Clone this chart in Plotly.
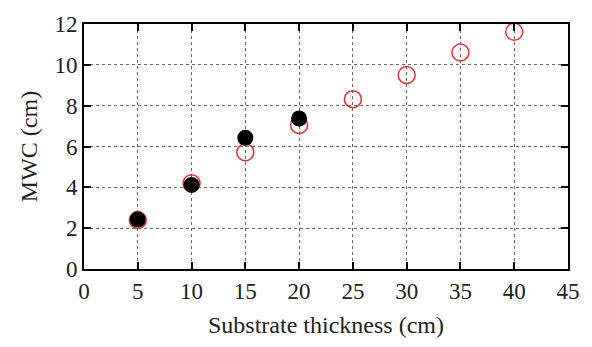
import plotly.graph_objects as go

thick_red = [5, 10, 15, 20, 25, 30, 35, 40]
mwc_red = [2.4, 4.2, 5.72, 7.05, 8.32, 9.5, 10.6, 11.62]
thick_black = [5, 10, 15, 20]
mwc_black = [2.42, 4.12, 6.43, 7.37]

fig = go.Figure()
fig.add_trace(go.Scatter(x=thick_red, y=mwc_red, mode="markers",
                         marker=dict(symbol="circle-open", size=17, color="#e03030",
                                     line=dict(width=1.5)), showlegend=False, cliponaxis=False))
fig.add_trace(go.Scatter(x=thick_black, y=mwc_black, mode="markers",
                         marker=dict(symbol="circle", size=16, color="black"),
                         showlegend=False, cliponaxis=False))

axis_common = dict(showline=True, linecolor="black", linewidth=2, mirror="ticks",
                   ticks="inside", ticklen=7, tickwidth=1.5, tickcolor="black",
                   showgrid=True, gridcolor="#666666", griddash="dot", gridwidth=1,
                   zeroline=False,
                   tickfont=dict(family="Liberation Serif", size=23, color="#222"),
                   title_font=dict(family="Liberation Serif", size=24, color="#222"))

fig.update_xaxes(range=[0, 45], tickvals=[0, 5, 10, 15, 20, 25, 30, 35, 40, 45],
                 title_text="Substrate thickness (cm)", title_standoff=14, **axis_common)
fig.update_yaxes(range=[0, 12], tickvals=[0, 2, 4, 6, 8, 10, 12],
                 title_text="MWC (cm)", title_standoff=10, **axis_common)

fig.update_layout(width=592, height=347, margin=dict(l=84, r=17, t=21, b=78),
                  plot_bgcolor="white", paper_bgcolor="white")
fig.write_html("out.html")
